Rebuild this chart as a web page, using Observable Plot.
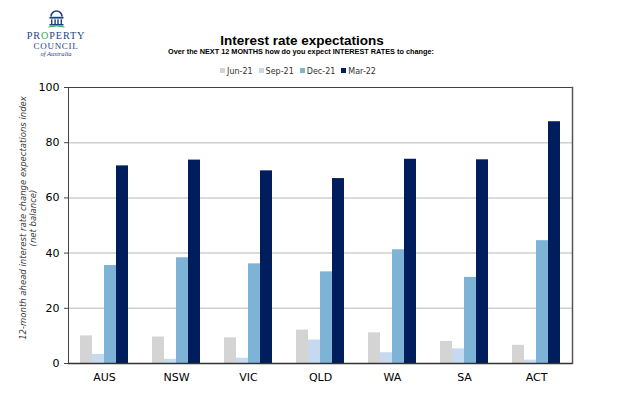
<!DOCTYPE html>
<html><head><meta charset="utf-8">
<script src="https://cdn.jsdelivr.net/npm/d3@7"></script>
<script src="https://cdn.jsdelivr.net/npm/@observablehq/plot@0.6"></script>
<style>
body{margin:0;background:#fff;}
#wrap{position:relative;width:618px;height:396px;overflow:hidden;font-family:"DejaVu Sans",sans-serif;background:#fff;}
#chart{position:absolute;left:0;top:0;}
.abs{position:absolute;white-space:nowrap;}
#title{left:0;width:604px;top:33px;text-align:center;font:bold 13.5px "Liberation Sans",Arial,sans-serif;color:#000;}
#subtitle{left:0;width:602px;top:47px;text-align:center;font:bold 7.3px "Liberation Sans",Arial,sans-serif;color:#000;}
#legend{left:0;width:596px;top:67px;display:flex;justify-content:center;gap:6px;font:8px "DejaVu Sans",sans-serif;color:#333;}
#legend span.sw{display:inline-block;width:5px;height:5px;margin-right:2px;vertical-align:1px;}
#ylab{left:28px;top:218px;transform:translate(-50%,-50%) rotate(-90deg);text-align:center;font:italic 8.5px "DejaVu Sans",sans-serif;color:#3a3a3a;line-height:9.5px;}
.logo{position:absolute;left:16px;width:80px;text-align:center;font-family:"Liberation Serif","Times New Roman",serif;color:#1d3f86;white-space:nowrap;}
#lg1{top:29.5px;font-size:10.2px;line-height:11.5px;letter-spacing:0.9px;}
#lg2{top:40.8px;font-size:9px;line-height:10px;letter-spacing:0.7px;}
#lg3{top:50.3px;font-size:6.6px;line-height:7.3px;font-style:italic;}
#icon{position:absolute;left:47px;top:9px;}
</style></head><body>
<div id="wrap">
  <svg id="icon" width="19" height="19" viewBox="0 0 19 19">
    <path d="M4 7.5 A5.5 5.5 0 0 1 15 7.5" fill="none" stroke="#1d3f86" stroke-width="1.6"/>
    <rect x="2.5" y="7.8" width="14" height="1.8" fill="#1d3f86"/>
    <rect x="4" y="10.3" width="1.4" height="4.8" fill="#1d3f86"/>
    <rect x="7.4" y="10.3" width="1.4" height="4.8" fill="#1d3f86"/>
    <rect x="10.3" y="10.3" width="1.4" height="4.8" fill="#1d3f86"/>
    <rect x="13.6" y="10.3" width="1.4" height="4.8" fill="#1d3f86"/>
    <rect x="2.5" y="15" width="14" height="1.5" fill="#1d3f86"/>
    <path d="M1.5 18 Q9.5 15.8 17.5 18" fill="none" stroke="#2fa84f" stroke-width="1"/>
  </svg>
  <div id="lg1" class="logo">PR<span style="color:#2fa84f">O</span>PERTY</div>
  <div id="lg2" class="logo">COUNCIL</div>
  <div id="lg3" class="logo">of Australia</div>
  <div id="title" class="abs">Interest rate expectations</div>
  <div id="subtitle" class="abs">Over the NEXT 12 MONTHS how do you expect INTEREST RATES to change:</div>
  <div id="legend" class="abs"></div>
  <div id="ylab" class="abs">12-month ahead interest rate change expectations index<br>(net balance)</div>
  <div id="chart"></div>
</div>
<script>
const states = ["AUS", "NSW", "VIC", "QLD", "WA", "SA", "ACT"];
const periods = ["Jun-21", "Sep-21", "Dec-21", "Mar-22"];
const jun21 = [10.0, 9.6, 9.3, 12.1, 11.1, 8.0, 6.6];
const sep21 = [3.3, 1.5, 1.9, 8.5, 3.9, 5.3, 1.2];
const dec21 = [35.5, 38.3, 36.1, 33.2, 41.2, 31.2, 44.5];
const mar22 = [71.6, 73.7, 69.8, 67.0, 74.0, 73.8, 87.6];
const colors = ["#d4d4d4", "#c6daef", "#7db3d7", "#001d5c"];
const yTicks = [0, 20, 40, 60, 80, 100];

const seriesValues = [jun21, sep21, dec21, mar22];
const data = [];
states.forEach((s, i) => periods.forEach((p, j) => data.push({state: s, period: p, value: seriesValues[j][i]})));

// legend
const leg = document.getElementById("legend");
periods.forEach((p, j) => {
  const item = document.createElement("span");
  item.innerHTML = `<span class="sw" style="background:${colors[j]}"></span>${p}`;
  leg.appendChild(item);
});

const chart = Plot.plot({
  width: 618,
  height: 396,
  marginTop: 87,
  marginBottom: 33,
  marginLeft: 68,
  marginRight: 46,
  style: {fontFamily: "'DejaVu Sans', sans-serif", fontSize: "11px", background: "transparent", color: "#000"},
  fx: {domain: states, padding: 0, label: null},
  x: {domain: periods, paddingInner: 0, paddingOuter: 0.77, axis: null},
  y: {domain: [0, 100], label: null},
  color: {domain: periods, range: colors},
  marks: [
    Plot.ruleY(yTicks.filter(d => d > 0 && d < 100), {stroke: "#cfcfcf", strokeWidth: 1.5}),
    Plot.barY(data, {fx: "state", x: "period", y: "value", fill: "period"}),
    Plot.ruleY([100], {stroke: "#444", strokeWidth: 1}),
    Plot.frame({anchor: "left", facetAnchor: "left", stroke: "#444"}),
    Plot.frame({anchor: "right", facetAnchor: "right", stroke: "#555", strokeWidth: 1.5}),
    Plot.ruleY([0], {stroke: "#333", strokeWidth: 1.5}),
    Plot.axisY({ticks: yTicks, tickSize: 4, tickPadding: 5, label: null, stroke: "#444", fill: "#000", fontSize: 11}),
    Plot.axisFx({anchor: "bottom", tickSize: 0, tickPadding: 10, label: null, fontSize: 11})
  ]
});
document.getElementById("chart").appendChild(chart);
</script>
</body></html>
